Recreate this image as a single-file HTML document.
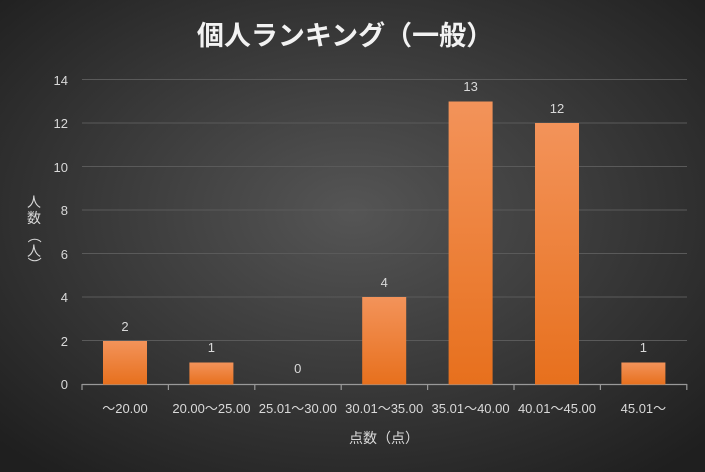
<!DOCTYPE html>
<html><head><meta charset="utf-8"><style>
html,body{margin:0;padding:0;width:705px;height:472px;overflow:hidden;background:#2a2a2a}
</style></head><body>
<svg width="705" height="472" xmlns="http://www.w3.org/2000/svg" font-family="Liberation Sans, Noto Sans CJK JP, sans-serif">
<defs>
<radialGradient id="bg" cx="50%" cy="45%" r="70%">
<stop offset="0" stop-color="#555555"/><stop offset="1" stop-color="#1f1f1f"/>
</radialGradient>
<linearGradient id="bar" x1="0" y1="0" x2="0" y2="1">
<stop offset="0" stop-color="#f3935a"/><stop offset="1" stop-color="#e7701d"/>
</linearGradient>
</defs>
<rect width="705" height="472" fill="url(#bg)"/>
<text x="345" y="45" text-anchor="middle" font-size="27" font-weight="bold" fill="#f2f2f2" font-family="Noto Sans CJK JP, sans-serif">個人ランキング（一般）</text>
<g stroke="#5a5a5a" stroke-width="1">
<line x1="82" x2="687" y1="79.5" y2="79.5"/>
<line x1="82" x2="687" y1="123" y2="123"/>
<line x1="82" x2="687" y1="166.5" y2="166.5"/>
<line x1="82" x2="687" y1="210" y2="210"/>
<line x1="82" x2="687" y1="253.5" y2="253.5"/>
<line x1="82" x2="687" y1="297" y2="297"/>
<line x1="82" x2="687" y1="340.5" y2="340.5"/>
</g>
<g stroke="#999" stroke-width="1.2">
<line x1="82" x2="687" y1="384.5" y2="384.5"/>
<line x1="82" x2="82" y1="384" y2="390"/><line x1="168.4" x2="168.4" y1="384" y2="390"/><line x1="254.8" x2="254.8" y1="384" y2="390"/><line x1="341.2" x2="341.2" y1="384" y2="390"/><line x1="427.6" x2="427.6" y1="384" y2="390"/><line x1="514" x2="514" y1="384" y2="390"/><line x1="600.4" x2="600.4" y1="384" y2="390"/><line x1="686.8" x2="686.8" y1="384" y2="390"/>
</g>
<g fill="#d9d9d9" font-size="13" text-anchor="end">
<text x="68" y="346">2</text><text x="68" y="302">4</text><text x="68" y="259">6</text><text x="68" y="215">8</text><text x="68" y="172">10</text><text x="68" y="128">12</text><text x="68" y="85">14</text>
<text x="68" y="389">0</text>
</g>
<g fill="url(#bar)">
<rect x="103" y="341" width="44" height="43.5"/>
<rect x="189.4" y="362.5" width="44" height="22"/>
<rect x="362.2" y="297" width="44" height="87.5"/>
<rect x="448.6" y="101.5" width="44" height="283"/>
<rect x="535" y="123" width="44" height="261.5"/>
<rect x="621.4" y="362.5" width="44" height="22"/>
</g>
<g fill="#d9d9d9" font-size="13" text-anchor="middle">
<text x="125" y="331">2</text><text x="211.4" y="352">1</text><text x="297.8" y="373">0</text><text x="384.2" y="287">4</text><text x="470.6" y="91">13</text><text x="557" y="113">12</text><text x="643.4" y="352">1</text>
</g>
<g fill="#d9d9d9" font-size="13" text-anchor="middle">
<text x="125" y="413">～20.00</text><text x="211.4" y="413">20.00～25.00</text><text x="297.8" y="413">25.01～30.00</text><text x="384.2" y="413">30.01～35.00</text><text x="470.6" y="413">35.01～40.00</text><text x="557" y="413">40.01～45.00</text><text x="643.4" y="413">45.01～</text>
</g>
<text x="384" y="443" fill="#d9d9d9" font-size="14" text-anchor="middle" font-family="Noto Sans CJK JP, sans-serif">点数（点）</text>
<g fill="#d9d9d9" font-size="14" text-anchor="middle" font-family="Noto Sans CJK JP, sans-serif">
<text x="34" y="207">人</text><text x="34" y="223">数</text>
<text x="34" y="241" transform="rotate(90 34 236)">（</text>
<text x="34" y="256">人</text>
<text x="34" y="269" transform="rotate(90 34 264)">）</text>
</g>
</svg>
</body></html>
